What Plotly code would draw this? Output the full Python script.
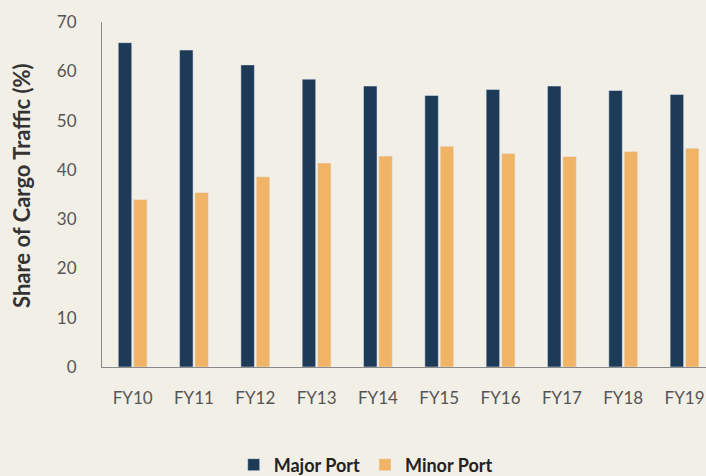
import plotly.graph_objects as go

# Share of cargo traffic handled by major vs minor ports, FY10-FY19
years = ["FY10", "FY11", "FY12", "FY13", "FY14", "FY15", "FY16", "FY17", "FY18", "FY19"]
major_port = [65.8, 64.3, 61.3, 58.4, 57.0, 55.1, 56.3, 57.0, 56.1, 55.3]
minor_port = [34.0, 35.4, 38.6, 41.4, 42.8, 44.8, 43.3, 42.7, 43.7, 44.4]
y_ticks = [0, 10, 20, 30, 40, 50, 60, 70]

NAVY = "#1d3a57"
ORANGE = "#f1b366"
BG = "#f2efe7"
FONT = "Lato, 'Open Sans', sans-serif"

W, H = 706, 476
M_L, M_R, M_T, M_B = 102, 0, 22, 109
plot_w = W - M_L - M_R
plot_h = H - M_T - M_B

fig = go.Figure()
fig.add_trace(go.Bar(x=years, y=major_port, name="Major Port", marker_color=NAVY))
fig.add_trace(go.Bar(x=years, y=minor_port, name="Minor Port", marker_color=ORANGE))

fig.update_layout(
    width=W,
    height=H,
    paper_bgcolor=BG,
    plot_bgcolor=BG,
    margin=dict(l=M_L, r=M_R, t=M_T, b=M_B, autoexpand=False),
    barmode="group",
    bargap=0.5,
    bargroupgap=0.12,
    font=dict(family=FONT, color="#555555", size=17),
    showlegend=True,
    legend=dict(
        orientation="h",
        xref="container",
        yref="container",
        x=0.518,
        xanchor="center",
        y=1 - 465 / 476,
        yanchor="middle",
        font=dict(family=FONT, size=18, color="#222222", weight="bold"),
        bgcolor="rgba(0,0,0,0)",
        itemwidth=30,
    ),
)

# Rotated y-axis title, placed as an annotation left of the tick labels
fig.add_annotation(
    text="Share of Cargo Traffic (%)",
    textangle=-90,
    xref="paper",
    yref="paper",
    x=(22 - M_L) / plot_w,
    y=(H - M_B - 186) / plot_h,
    xanchor="center",
    yanchor="middle",
    showarrow=False,
    font=dict(family=FONT, size=22, color="#333333", weight="bold"),
)

fig.update_xaxes(
    type="category",
    range=[-0.5, 9.35],
    showgrid=False,
    showline=True,
    linecolor="#8a8a8a",
    linewidth=1.2,
    ticks="",
    tickfont=dict(family=FONT, size=17, color="#555555"),
    ticklabelstandoff=15,
    automargin=False,
)

fig.update_yaxes(
    range=[0, 70],
    tickvals=y_ticks,
    showgrid=False,
    zeroline=False,
    showline=True,
    linecolor="#8a8a8a",
    linewidth=1.2,
    ticks="",
    tickfont=dict(family=FONT, size=17, color="#555555"),
    ticklabelstandoff=21,
    automargin=False,
)

fig.write_html("out.html")
